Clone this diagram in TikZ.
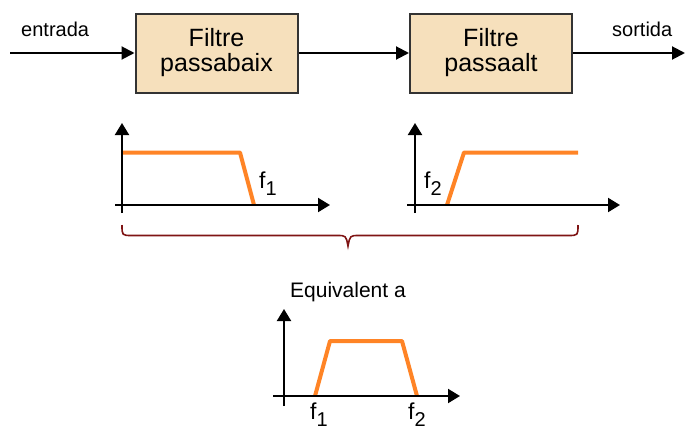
\documentclass[tikz,border=0pt]{standalone}
\usepackage{fontspec}
\setmainfont{Liberation Sans}
\usetikzlibrary{arrows.meta}
\definecolor{boxfill}{HTML}{F6E0BC}
\definecolor{curvecol}{HTML}{FF8426}
\definecolor{bracecol}{HTML}{7F1414}
\newcommand{\fsub}[1]{f\raisebox{-7pt}{\fontsize{20}{20}\selectfont #1}}
\begin{document}
\begin{tikzpicture}[x=1pt,y=-1pt,
  filterbox/.style={draw=black!80, line width=2pt, fill=boxfill, minimum width=162pt,
    minimum height=79pt, align=center, font=\fontsize{25}{25}\selectfont, inner sep=0pt},
  sig/.style={line width=2pt, -{Triangle[length=13pt,width=13pt]}},
  axis/.style={line width=2pt, -{Triangle[length=12pt,width=14pt]}},
  resp/.style={draw=curvecol, line width=4pt, line join=round},
  lbl/.style={inner sep=0pt, anchor=base west, font=\fontsize{20}{20}\selectfont},
  flbl/.style={inner sep=0pt, anchor=base west, font=\fontsize{23}{23}\selectfont},
  eqlbl/.style={inner sep=0pt, anchor=base west, font=\fontsize{21}{21}\selectfont},
  bracestyle/.style={draw=bracecol, line width=1.6pt}
  ]
\useasboundingbox (0,0) rectangle (685,431);

% block diagram
\node[filterbox] (lp) at (216.5,53) {Filtre\\passabaix};
\node[filterbox] (hp) at (491,53) {Filtre\\passaalt};
\coordinate (in) at (10,53);
\coordinate (out) at (685,53);
\draw[sig] (in) -- (lp.west);
\draw[sig] (lp.east) -- (hp.west);
\draw[sig] (hp.east) -- (out);
\node[lbl] (entrada) at (21,36) {entrada};
\node[lbl] (sortida) at (612,36) {sortida};

% plot 1 (low pass)
\coordinate (a1) at (122,152.5);
\coordinate (b1) at (240,152.5);
\coordinate (c1) at (254,205);
\draw[resp] (a1) -- (b1) -- (c1);
\coordinate (y1s) at (122,213);
\coordinate (y1e) at (122,123);
\coordinate (x1s) at (115,205);
\coordinate (x1e) at (330,205);
\draw[axis] (y1s) -- (y1e);
\draw[axis] (x1s) -- (x1e);
\node[flbl] (f1a) at (259,188) {\fsub{1}};

% plot 2 (high pass)
\coordinate (a2) at (447,205);
\coordinate (b2) at (464,152.5);
\coordinate (c2) at (578,152.5);
\draw[resp] (a2) -- (b2) -- (c2);
\coordinate (y2s) at (415,213);
\coordinate (y2e) at (415,123);
\coordinate (x2s) at (407,205);
\coordinate (x2e) at (620,205);
\draw[axis] (y2s) -- (y2e);
\draw[axis] (x2s) -- (x2e);
\node[flbl] (f2a) at (424,188) {\fsub{2}};

% brace
\coordinate (bl) at (122,225);
\coordinate (br) at (578,225);
\coordinate (bm) at (348,246);
\draw[bracestyle] (bl) .. controls (122,235.5) .. (132,235.5) -- (337,235.5)
  .. controls (346,235.5) .. (bm) .. controls (350,235.5) .. (359,235.5) -- (568,235.5)
  .. controls (578,235.5) .. (br);

% equivalent
\node[eqlbl] (eq) at (290,297) {Equivalent a};
\coordinate (a3) at (315,396);
\coordinate (b3) at (330,341);
\coordinate (c3) at (402,341);
\coordinate (d3) at (417,396);
\draw[resp] (a3) -- (b3) -- (c3) -- (d3);
\coordinate (y3s) at (284,406);
\coordinate (y3e) at (284,309);
\coordinate (x3s) at (273,396);
\coordinate (x3e) at (460,396);
\draw[axis] (y3s) -- (y3e);
\draw[axis] (x3s) -- (x3e);
\node[flbl] (f1b) at (310,419) {\fsub{1}};
\node[flbl] (f2b) at (408,419) {\fsub{2}};
\end{tikzpicture}
\end{document}
